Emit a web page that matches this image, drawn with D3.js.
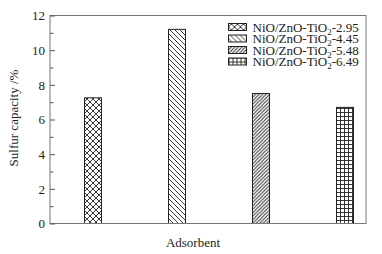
<!DOCTYPE html>
<html lang="en">
    <head>
        <meta charset="utf-8">
        <title>sulfur_capacity</title>
        <script type="text/javascript" src="https://cdn.jsdelivr.net/npm/d3@7"></script>
        <style>
            body { margin: 0; background: #fff; }
            text { font-family: "Liberation Serif", "DejaVu Serif", serif; fill: #222; }
        </style>
    </head>

    <body>
        <script type="text/javascript">
        var w = 382;
        var h = 254;

        // Data
        var samples = ["2.95", "4.45", "5.48", "6.49"];      // NiO/ZnO-TiO2-xx
        var capacity = [7.25, 11.2, 7.5, 6.7];               // sulfur capacity, %
        var patterns = ["cross", "back", "slash", "grid"];
        var yTicks = [0, 2, 4, 6, 8, 10, 12];
        var yMinor = [1, 3, 5, 7, 9, 11];

        // plot box (note: "top" is reserved on window, so use plot* names)
        var plotL = 50, plotR = 366, plotT = 15.5, plotB = 223.5;

        var xScale = d3.scaleLinear()
                    .domain([0.5, 4.25])        // bars sit at 1..4
                    .range([plotL, plotR]);

        var yScale = d3.scaleLinear()
                    .domain([0, 12])
                    .range([plotB, plotT]);

        var barW = 17;

        var svg = d3.select("body")
                    .append("svg")
                    .attr("width", w)
                    .attr("height", h);

        // hatch patterns
        var defs = svg.append("defs");
        var pdefs = {
            cross: {s: 6, d: "M0,0L6,6M6,0L0,6"},
            back:  {s: 5, d: "M0,0L5,5M-1,4L1,6M4,-1L6,1"},
            slash: {s: 3.5, d: "M0,3.5L3.5,0M-1,1L1,-1M2.5,4.5L4.5,2.5"},
            grid:  {s: 4, d: "M0,0.5H4M0.5,0V4"}
        };
        Object.keys(pdefs).forEach(function(k){
            var p = defs.append("pattern")
                .attr("id", "p-" + k)
                .attr("patternUnits", "userSpaceOnUse")
                .attr("width", pdefs[k].s)
                .attr("height", pdefs[k].s);
            p.append("rect").attr("width", pdefs[k].s).attr("height", pdefs[k].s).attr("fill", "#fff");
            p.append("path").attr("d", pdefs[k].d)
                .attr("stroke", "#222").attr("stroke-width", 0.9).attr("fill", "none");
        });

        // bars
        svg.selectAll("rect.bar")
            .data(capacity)
            .enter()
            .append("rect")
            .attr("class", "bar")
            .attr("x", function(d, i){ return Math.round(xScale(i + 1) - barW / 2) + 0.5; })
            .attr("y", function(d){ return yScale(d); })
            .attr("width", barW)
            .attr("height", function(d){ return plotB - yScale(d); })
            .attr("fill", function(d, i){ return "url(#p-" + patterns[i] + ")"; })
            .attr("stroke", "#222")
            .attr("stroke-width", 1);

        // frame
        svg.append("rect")
            .attr("x", plotL).attr("y", plotT)
            .attr("width", plotR - plotL).attr("height", plotB - plotT)
            .attr("fill", "none")
            .attr("stroke", "#777")
            .attr("stroke-width", 1);

        // y axis, ticks point inward
        var yAxis = d3.axisLeft(yScale).tickValues(yTicks).tickSize(-5).tickPadding(5);
        var gy = svg.append("g")
            .attr("transform", "translate(" + plotL + ",0)")
            .call(yAxis);
        gy.select(".domain").remove();
        gy.selectAll("line").attr("stroke", "#555");
        gy.selectAll("text")
            .attr("font-size", "13px")
            .attr("font-family", "Liberation Serif, serif")
            .attr("fill", "#222");

        var gm = svg.append("g")
            .attr("transform", "translate(" + plotL + ",0)")
            .call(d3.axisLeft(yScale).tickValues(yMinor).tickSize(-3.5).tickFormat(""));
        gm.select(".domain").remove();
        gm.selectAll("line").attr("stroke", "#555");

        // axis titles
        svg.append("text")
            .attr("transform", "translate(18,118) rotate(-90)")
            .attr("text-anchor", "middle")
            .attr("font-size", "13px")
            .text("Sulfur capacity /%");

        svg.append("text")
            .attr("x", 193)
            .attr("y", 247)
            .attr("text-anchor", "middle")
            .attr("font-size", "13px")
            .text("Adsorbent");

        // legend
        var legend = svg.selectAll("g.legend")
            .data(samples)
            .enter()
            .append("g")
            .attr("class", "legend")
            .attr("transform", function(d, i){ return "translate(228.5," + (27 + i * 11.5) + ")"; });

        legend.append("rect")
            .attr("x", 0).attr("y", -3.5)
            .attr("width", 18).attr("height", 7)
            .attr("fill", function(d, i){ return "url(#p-" + patterns[i] + ")"; })
            .attr("stroke", "#222")
            .attr("stroke-width", 1);

        var lt = legend.append("text")
            .attr("x", 24)
            .attr("y", 4.5)
            .attr("font-size", "13px");
        lt.append("tspan").text("NiO/ZnO-TiO");
        lt.append("tspan").attr("dy", 3).attr("font-size", "9px").text("2");
        lt.append("tspan").attr("dy", -3).text(function(d){ return "-" + d; });
        </script>
    </body>
</html>
